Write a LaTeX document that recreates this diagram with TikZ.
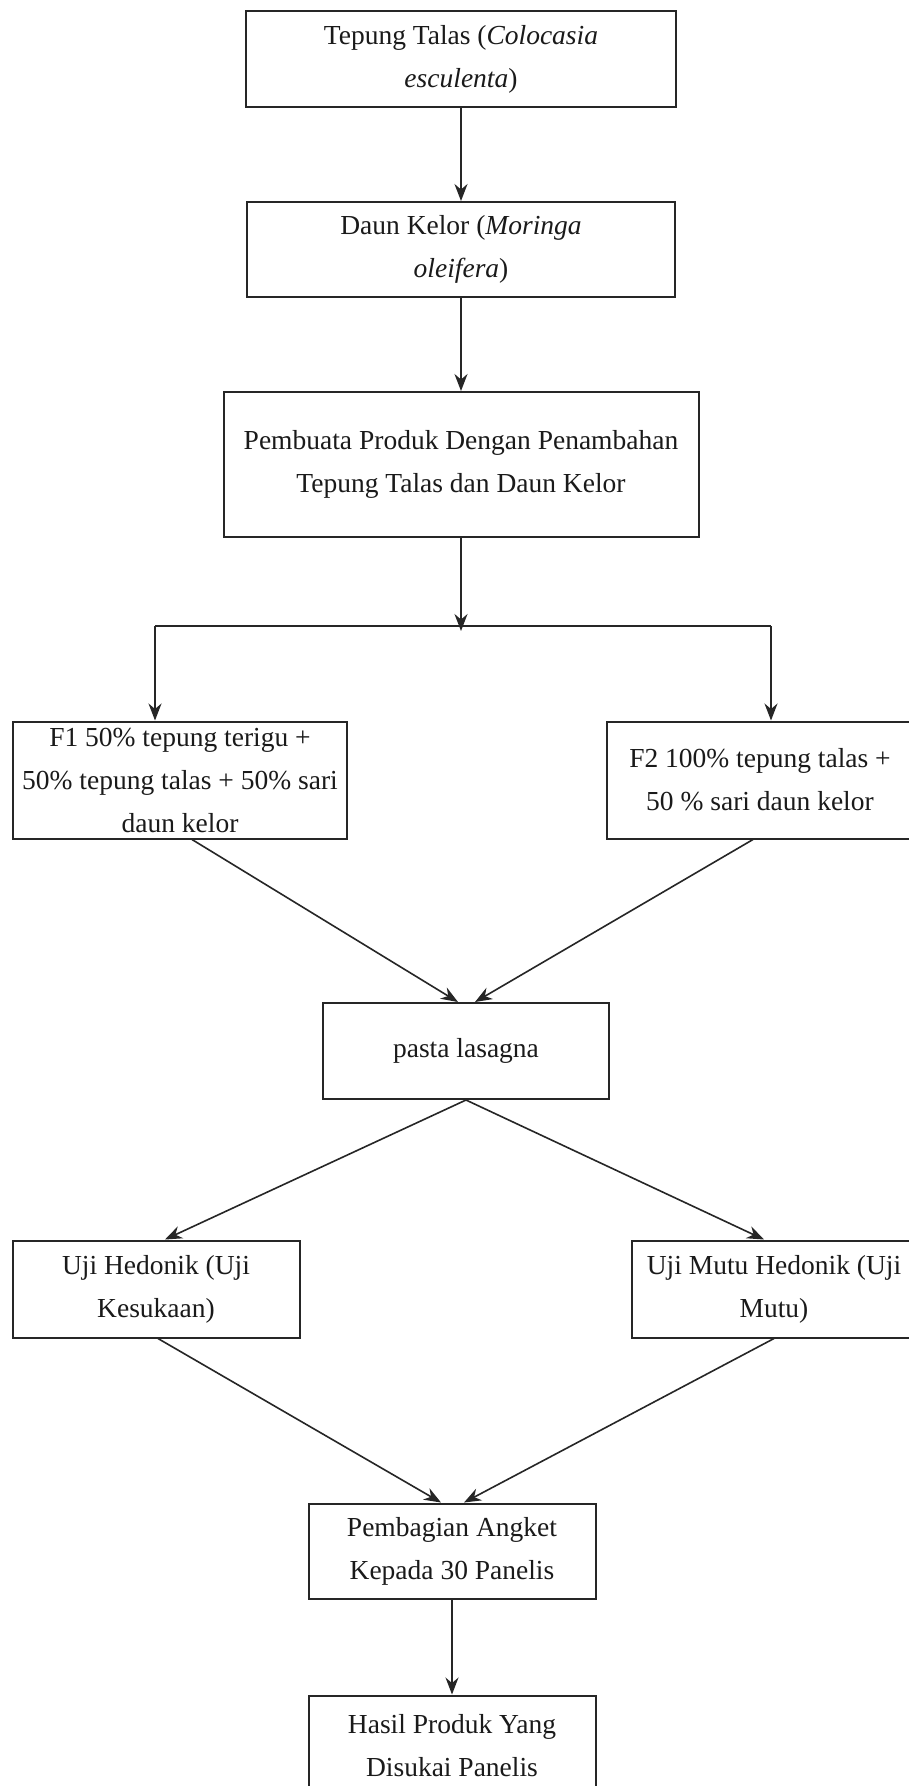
\documentclass[tikz,border=0pt]{standalone}
\usepackage{fontspec}
\setmainfont{Liberation Serif}
\usepackage{tikz}
\usetikzlibrary{arrows.meta, positioning}
\usepackage{xcolor}
\definecolor{garisgelap}{HTML}{262626}
\definecolor{teksgelap}{HTML}{1A1A1A}

\begin{document}
\begin{tikzpicture}[
    x=1pt, y=-1pt,
    kotak/.style={rectangle, draw=garisgelap, line width=2pt, inner sep=0pt,
                  align=center, text=teksgelap,
                  font=\fontsize{27.5}{43}\selectfont},
    panah/.style={-{Stealth[length=17pt, width=13pt]}, line width=1.6pt, color=garisgelap},
    garis/.style={line width=1.6pt, color=garisgelap}
  ]
    \fill[white] (0,0) rectangle (909,1786);
    \clip (0,0) rectangle (909,1786);

    \node[kotak, minimum width=430pt, minimum height=96pt] (talas) at (461,59)
        {Tepung Talas (\textit{Colocasia}\\\textit{esculenta})};
    \node[kotak, minimum width=428pt, minimum height=95pt, below=93pt of talas] (kelor)
        {Daun Kelor (\textit{Moringa}\\\textit{oleifera})};
    \node[kotak, minimum width=475pt, minimum height=145pt, below=93pt of kelor] (produk)
        {Pembuata Produk Dengan Penambahan\\Tepung Talas dan Daun Kelor};
    \coordinate[below=93pt of produk] (cabang);
    \coordinate (kiri) at (155,626);
    \coordinate (kanan) at (771,626);

    \node[kotak, minimum width=334pt, minimum height=117pt] (f1) at (180,780)
        {F1 50\% tepung terigu +\\50\% tepung talas + 50\% sari\\daun kelor};
    \node[kotak, minimum width=306pt, minimum height=117pt] (f2) at (760,780)
        {F2 100\% tepung talas +\\50 \% sari daun kelor};
    \node[kotak, minimum width=286pt, minimum height=96pt] (pasta) at (466,1051)
        {pasta lasagna};
    \node[kotak, minimum width=287pt, minimum height=97pt] (hedonik) at (156,1289)
        {Uji Hedonik (Uji\\Kesukaan)};
    \node[kotak, minimum width=284pt, minimum height=97pt] (mutu) at (774,1289)
        {Uji Mutu Hedonik (Uji\\Mutu)};
    \node[kotak, minimum width=287pt, minimum height=95pt] (angket) at (452,1551)
        {Pembagian Angket\\Kepada 30 Panelis};
    \node[kotak, minimum width=287pt, minimum height=100pt, below=95pt of angket] (hasil)
        {Hasil Produk Yang\\Disukai Panelis};

    \draw[panah] (talas) -- (kelor);
    \draw[panah] (kelor) -- (produk);
    \draw[panah] (produk) -- (cabang);
    \draw[garis] (kiri) -- (kanan);
    \draw[panah] (kiri) -- (kiri |- f1.north);
    \draw[panah] (kanan) -- (kanan |- f2.north);

    \draw[panah] ([xshift=12pt]f1.south) -- ([xshift=-8pt]pasta.north);
    \draw[panah] ([xshift=-7pt]f2.south) -- ([xshift=9pt]pasta.north);
    \draw[panah] (pasta.south) -- ([xshift=9pt]hedonik.north);
    \draw[panah] (pasta.south) -- ([xshift=-10pt]mutu.north);
    \draw[panah] ([xshift=2pt]hedonik.south) -- ([xshift=-11pt]angket.north);
    \draw[panah] (mutu.south) -- ([xshift=12pt]angket.north);
    \draw[panah] (angket) -- (hasil);
  \end{tikzpicture}
\end{document}
